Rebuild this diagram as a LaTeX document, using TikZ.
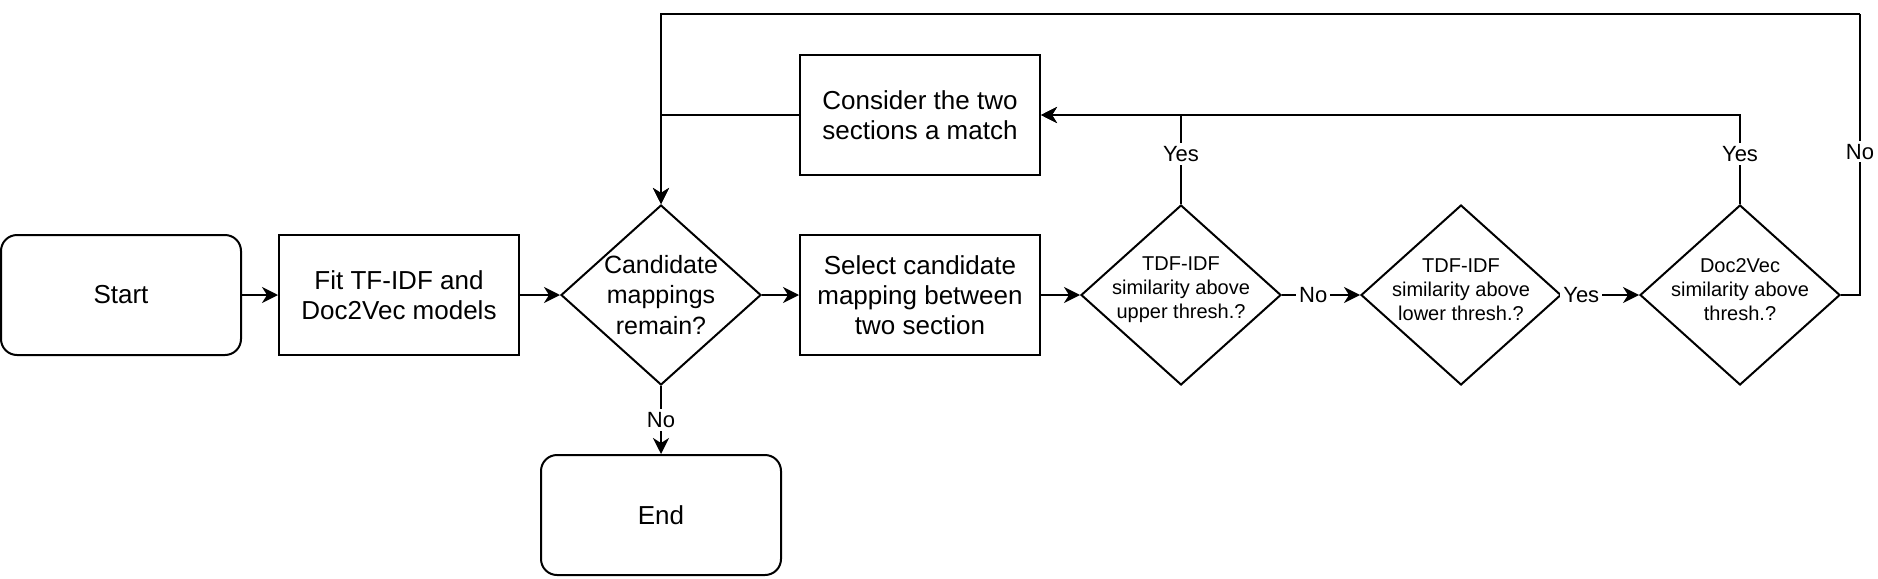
\documentclass[tikz,border=0pt]{standalone}
\usepackage{fontspec}
\setmainfont{Liberation Sans}
\usepackage{tikz}
\usetikzlibrary{shapes.geometric,arrows.meta}
\def\boxfont{\fontsize{13}{15}\selectfont}
\def\smallfont{\fontsize{10}{12}\selectfont}
\tikzset{
  flow/.style={line width=1pt,-{Stealth[length=8pt,width=8pt,inset=2.5pt]}},
  line/.style={line width=1pt},
  term/.style={draw,line width=1pt,rounded corners=8pt,minimum width=120pt,minimum height=60pt,font=\boxfont,align=center},
  proc/.style={draw,line width=1pt,minimum width=120pt,minimum height=60pt,font=\boxfont,align=center},
  decision/.style={draw,line width=1pt,diamond,minimum width=100pt,minimum height=90pt,inner sep=0pt},
  dtext/.style={font=\smallfont,align=center,inner sep=1pt},
  elabel/.style={font=\fontsize{11}{13}\selectfont,fill=white,inner sep=1.5pt}
}

\begin{document}
\begin{tikzpicture}[x=1pt,y=-1pt]
\useasboundingbox (0,0) rectangle (939,289);
\node[term] (start) at (60.5,147.5) {Start};
\node[proc] (fit) at (199.5,147.5) {Fit TF-IDF and\\Doc2Vec models};
\node[decision] (remain) at (330.5,147.5) {};
\node[font=\fontsize{12.5}{15.3}\selectfont,align=center,inner sep=0pt] (remaintext) at (remain) {Candidate\\mappings\\remain?};
\node[proc] (select) at (460,147.5) {Select candidate\\mapping between\\two section};
\node[decision] (upper) at (590.5,147.5) {};
\node[dtext] (uppertext) at (590.5,145) {TDF-IDF\\similarity above\\upper thresh.?};
\node[decision] (lower) at (730.5,147.5) {};
\node[dtext] (lowertext) at (730.5,145) {TDF-IDF\\similarity above\\lower thresh.?};
\node[decision] (d2v) at (870,147.5) {};
\node[dtext] (d2vtext) at (870,145) {Doc2Vec\\similarity above\\thresh.?};
\node[proc] (match) at (460,57.5) {Consider the two\\sections a match};
\node[term] (end) at (330.5,257.5) {End};
\coordinate (topright) at (930,7);

\draw[flow] (start) -- (fit);
\draw[flow] (fit) -- (remain);
\draw[flow] (remain) -- (select);
\draw[flow] (select) -- (upper);
\draw[flow] (upper) -- node[elabel,pos=0.4] {No} (lower);
\draw[flow] (lower) -- node[elabel,pos=0.25] {Yes} (d2v);
\draw[flow] (remain.south) -- node[elabel] {No} (end);
% back to the match box
\draw[flow] (upper.north) |- node[elabel,pos=0.28] {Yes} (match.east);
\draw[flow] (d2v.north) |- node[elabel,pos=0.28] {Yes} (match.east);
% loops back to the first decision
\draw[flow] (match.west) -| (remain.north);
\draw[line] (d2v.east) -| node[elabel,pos=0.755] {No} (topright);
\draw[flow] (topright) -| (remain.north);
\end{tikzpicture}
\end{document}
